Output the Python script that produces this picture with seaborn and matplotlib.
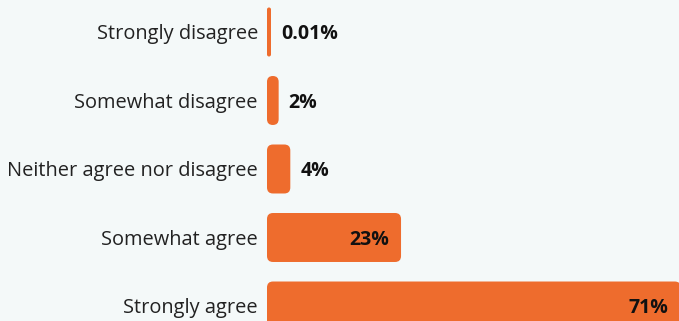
import matplotlib
matplotlib.use("Agg")
import matplotlib.pyplot as plt
import seaborn as sns
import pandas as pd
from matplotlib.patches import FancyBboxPatch

# Survey responses
categories = [
    "Strongly disagree",
    "Somewhat disagree",
    "Neither agree nor disagree",
    "Somewhat agree",
    "Strongly agree",
]
values = [0.01, 2, 4, 23, 71]
value_labels = ["0.01%", "2%", "4%", "23%", "71%"]

BG = "#F4F9F9"
ORANGE = "#EE6C2D"
TEXT = "#222222"
VALUE_TEXT = "#111111"

sns.set_theme(style="white")
plt.rcParams["font.family"] = ["Open Sans", "DejaVu Sans"]

df = pd.DataFrame({"response": categories, "share": values})

W, H = 679, 321
fig = plt.figure(figsize=(W / 100, H / 100), dpi=100, facecolor=BG)
left_px = 267
ax = fig.add_axes([left_px / W, 0, (W - left_px) / W, 1])
ax.set_facecolor(BG)

sns.barplot(data=df, x="share", y="response", orient="h", color=ORANGE,
            saturation=1, width=0.715, ax=ax)

xmax = 70.7
ylo, yhi = -0.467, 4.219
ax.set_xlim(0, xmax)
ax.set_ylim(yhi, ylo)

# pixels per data unit along each axis
sx = (W - left_px) / xmax
sy = H / (yhi - ylo)

min_px = 4
shown = []
for p in list(ax.patches):
    x0, y0, w, h = p.get_x(), p.get_y(), p.get_width(), p.get_height()
    w_shown = max(w, min_px / sx)
    shown.append(w_shown)
    r_px = min(6, w_shown * sx / 2 - 0.01)
    fb = FancyBboxPatch((x0, y0), w_shown, h,
                        boxstyle=f"round,pad=0,rounding_size={r_px / sx}",
                        mutation_aspect=sx / sy,
                        fc=ORANGE, ec="none", clip_on=True)
    p.remove()
    ax.add_patch(fb)

for i, (v, lab) in enumerate(zip(values, value_labels)):
    inside = v > 10
    ax.annotate(lab, (v if inside else shown[i], i),
                xytext=(-12 if inside else 10, 0), textcoords="offset pixels",
                ha="right" if inside else "left", va="center_baseline",
                fontsize=14, fontweight="bold", color=VALUE_TEXT,
                annotation_clip=False)

ax.set_yticks(range(len(categories)))
ax.set_yticklabels(categories)
ax.tick_params(axis="y", length=0, pad=6.5, labelsize=14.4, labelcolor=TEXT)
ax.set_xticks([])
ax.set_xlabel("")
ax.set_ylabel("")
for s in ax.spines.values():
    s.set_visible(False)

fig.savefig("out.png", dpi=100, facecolor=BG)
